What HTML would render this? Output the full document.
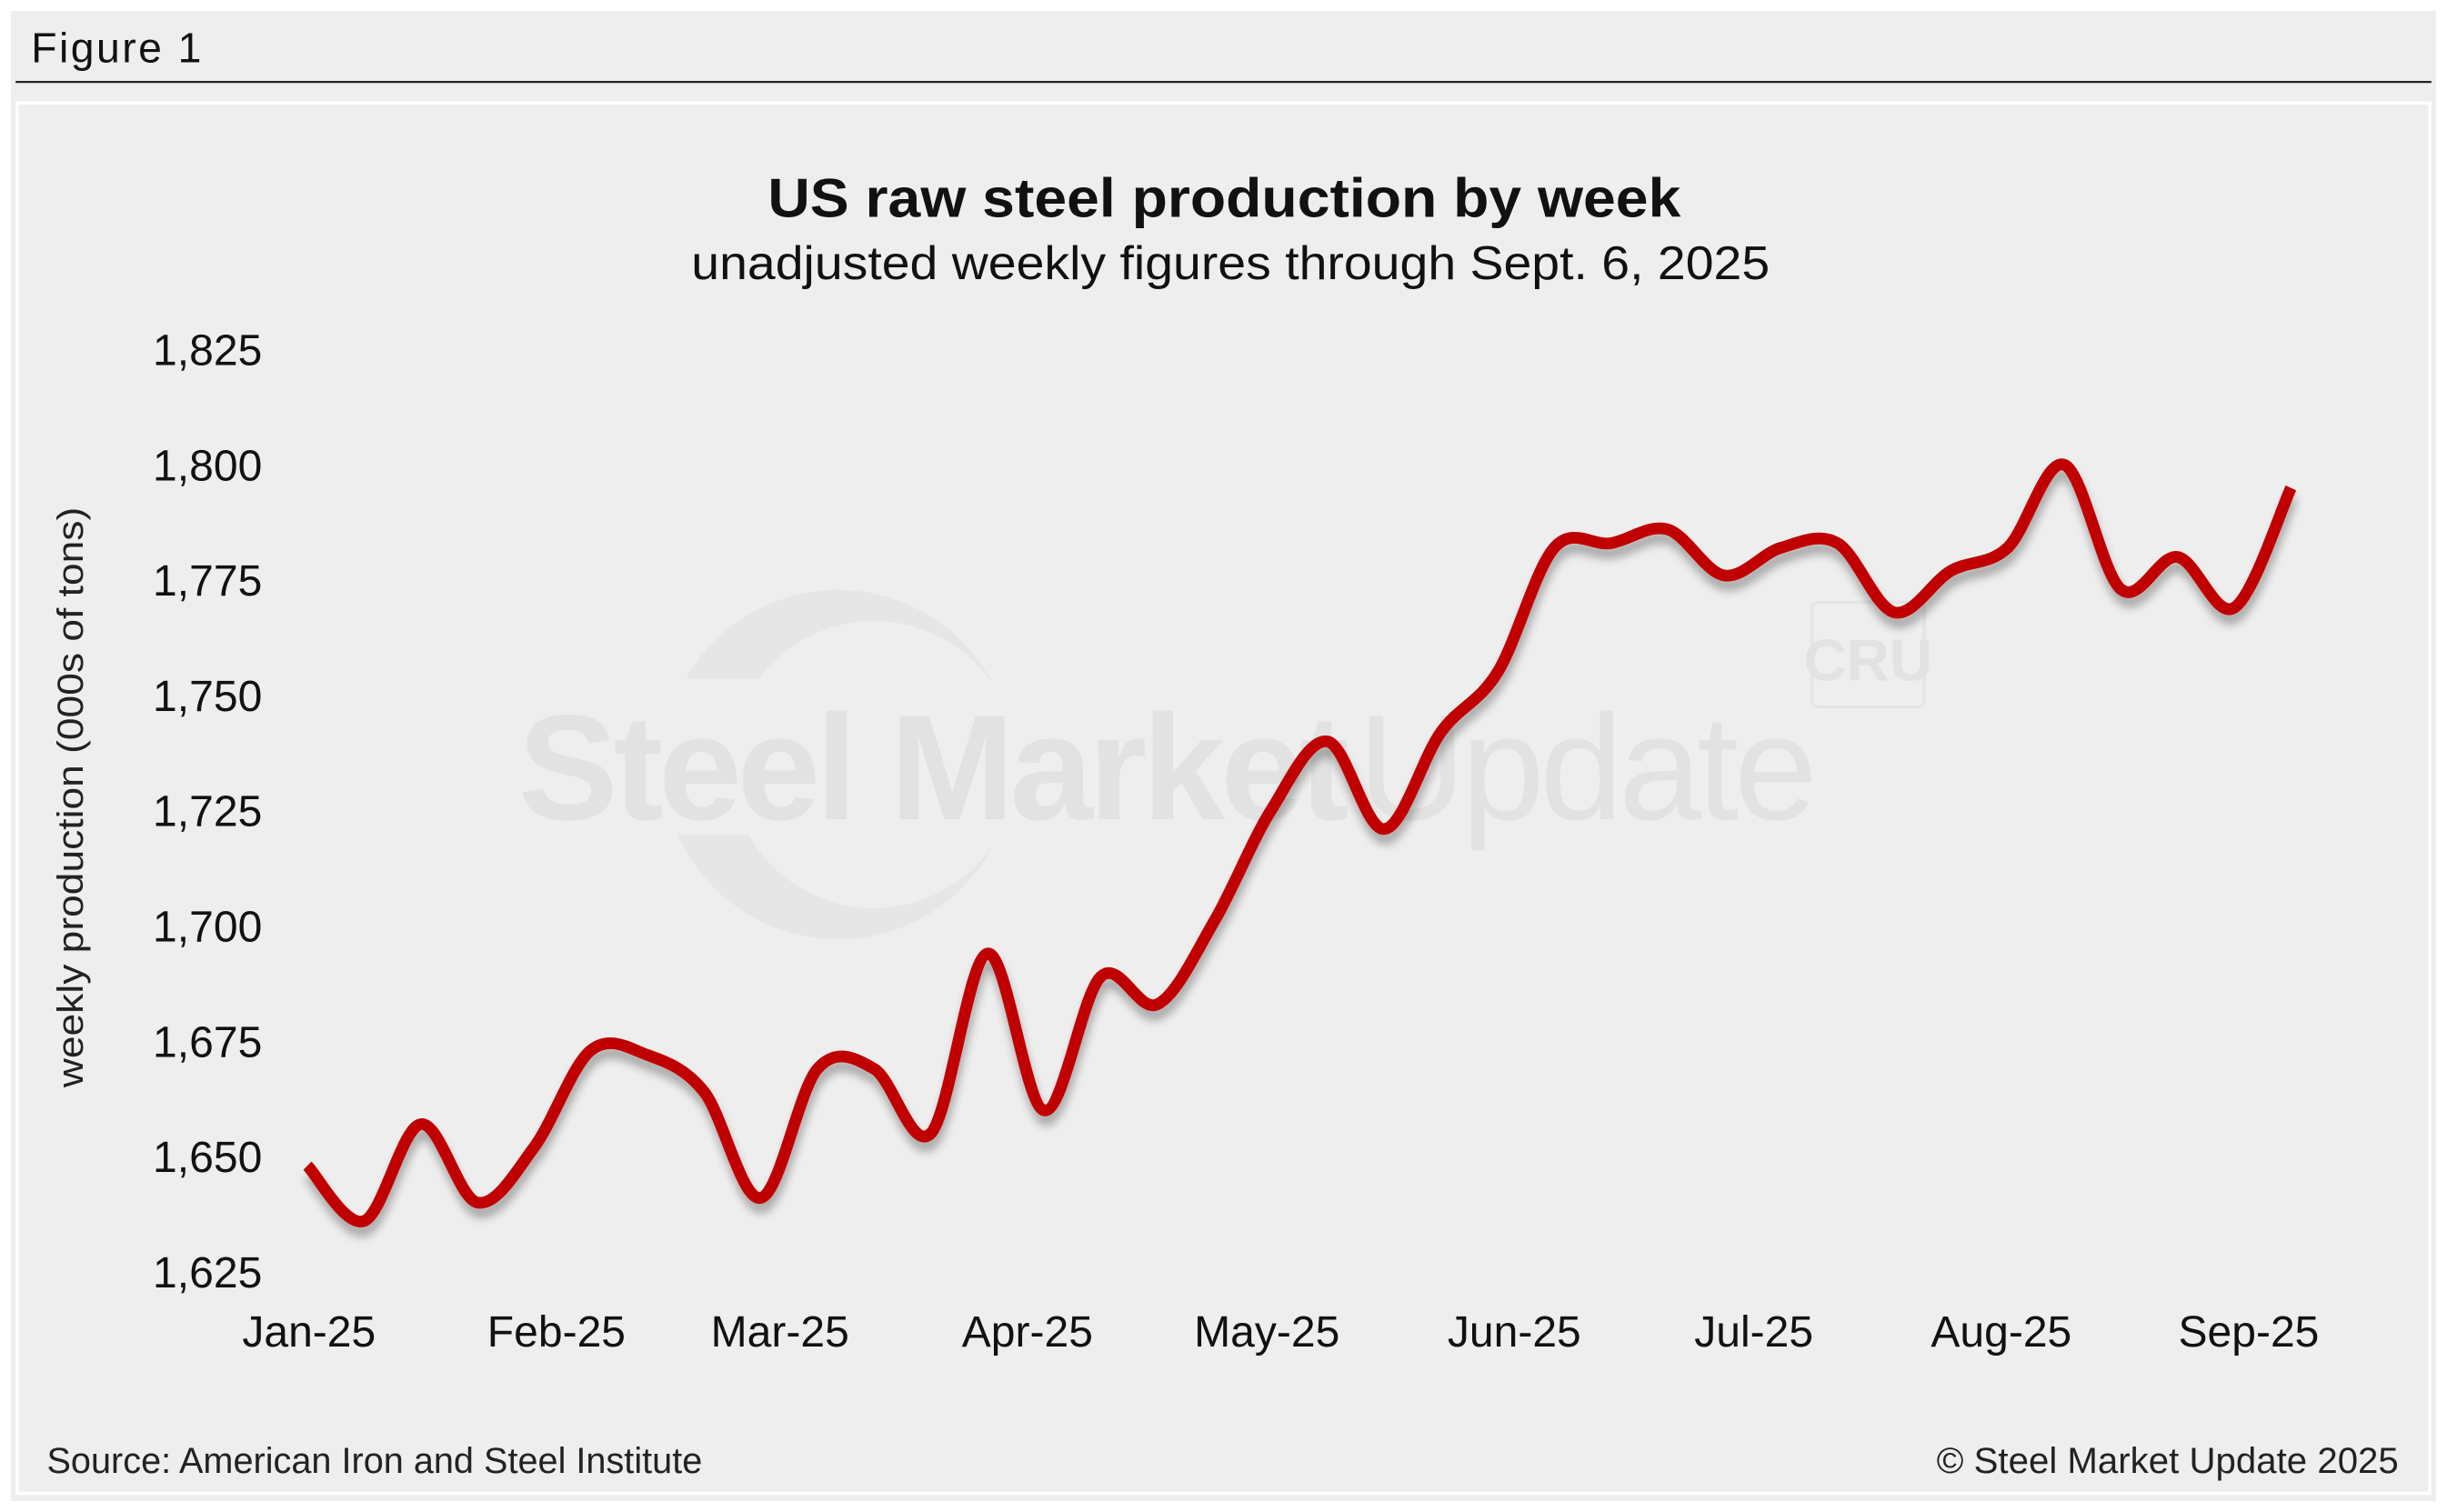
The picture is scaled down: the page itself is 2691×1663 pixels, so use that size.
<!DOCTYPE html>
<html><head><meta charset="utf-8"><style>
html,body{margin:0;padding:0;background:#fff;}
svg{display:block;}
text{font-family:"Liberation Sans",Arial,sans-serif;}
</style></head><body>
<svg id="chart" width="2691" height="1663" viewBox="0 0 1568 969" preserveAspectRatio="none" xmlns="http://www.w3.org/2000/svg">
<defs>
<filter id="sh" x="-5%" y="-5%" width="110%" height="120%"><feGaussianBlur in="SourceAlpha" stdDeviation="3"/><feOffset dx="1" dy="6"/><feComponentTransfer><feFuncA type="linear" slope="0.3"/></feComponentTransfer><feMerge><feMergeNode/><feMergeNode in="SourceGraphic"/></feMerge></filter>
</defs>
<rect x="0" y="0" width="1568" height="969" fill="#eeeeee"/>
<rect x="0" y="0" width="1568" height="969" fill="none" stroke="#fff" stroke-width="14"/>
<text x="20" y="40" font-size="27" textLength="109" fill="#111">Figure 1</text>
<line x1="10" y1="52.5" x2="1558" y2="52.5" stroke="#222" stroke-width="1.3"/>
<rect x="11" y="66" width="1546" height="891" fill="#eeeeee" stroke="#fff" stroke-width="2"/>
<g opacity="1">
<circle cx="537" cy="490" r="112" fill="#e6e6e6"/>
<circle cx="560" cy="490" r="92" fill="#eeeeee"/>
<rect x="420" y="435" width="230" height="100" fill="#eeeeee"/>
<text x="332" y="525" font-size="96" font-weight="bold" fill="#e2e2e2" letter-spacing="-3">Steel Market</text>
<text x="870" y="525" font-size="96" fill="#e2e2e2" letter-spacing="-3">Update</text>
<rect x="1161" y="386" width="72" height="67" rx="4" fill="none" stroke="#e4e4e4" stroke-width="2"/>
<text x="1197" y="436" font-size="38" font-weight="bold" fill="#e2e2e2" text-anchor="middle">CRU</text>
</g>
<text x="492" y="139" font-size="35" font-weight="bold" textLength="585" lengthAdjust="spacingAndGlyphs" fill="#111">US raw steel production by week</text>
<text x="443" y="179" font-size="30" textLength="691" lengthAdjust="spacingAndGlyphs" fill="#111">unadjusted weekly figures through Sept. 6, 2025</text>
<text transform="translate(53,511) rotate(-90)" font-size="23" text-anchor="middle" textLength="372" lengthAdjust="spacingAndGlyphs" fill="#222">weekly production (000s of tons)</text>
<g id="yticks"></g>
<g id="xticks"></g>
<g id="series"></g>
<text x="30" y="944" font-size="23" textLength="420" lengthAdjust="spacingAndGlyphs" fill="#222">Source: American Iron and Steel Institute</text>
<text x="1241" y="944" font-size="23" textLength="296" lengthAdjust="spacingAndGlyphs" fill="#222">© Steel Market Update 2025</text>
</svg>
<script>
const yTickValues = [1625,1650,1675,1700,1725,1750,1775,1800,1825];
const yTickLabels = ["1,625","1,650","1,675","1,700","1,725","1,750","1,775","1,800","1,825"];
const monthLabels = ["Jan-25","Feb-25","Mar-25","Apr-25","May-25","Jun-25","Jul-25","Aug-25","Sep-25"];
const monthStartDays = [0,31,59,90,120,151,181,212,243];
const weeklyProduction = [1648,1636,1657,1640,1652,1673,1672,1664,1641,1669,1669,1655,1694,1660,1689,1683,1701,1725,1740,1721,1742,1755,1782,1783,1786,1776,1782,1783,1768,1777,1782,1800,1773,1780,1769,1795];

const NS = "http://www.w3.org/2000/svg";
function yScale(v){ return 815 - (v - 1625) * (591/200); }
function xDay(d){ return 198 + d * 5.115; }
function xIdx(i){ return 197 + i * (1468 - 197) / (weeklyProduction.length - 1); }

const yg = document.getElementById('yticks');
yTickValues.forEach((v, i) => {
  const t = document.createElementNS(NS, 'text');
  t.setAttribute('x', 168);
  t.setAttribute('y', yScale(v) + 10);
  t.setAttribute('font-size', '28');
  t.setAttribute('text-anchor', 'end');
  t.setAttribute('fill', '#111');
  t.textContent = yTickLabels[i];
  
  
  yg.appendChild(t);
});

const xg = document.getElementById('xticks');
monthLabels.forEach((m, i) => {
  const t = document.createElementNS(NS, 'text');
  t.setAttribute('x', xDay(monthStartDays[i]));
  t.setAttribute('y', 863);
  t.setAttribute('font-size', '28');
  t.setAttribute('text-anchor', 'middle');
  t.setAttribute('fill', '#111');
  t.textContent = m;
  
  
  xg.appendChild(t);
});

const pts = weeklyProduction.map((v, i) => [xIdx(i), yScale(v)]);
let d = 'M' + pts[0][0] + ',' + pts[0][1];
for (let i = 0; i < pts.length - 1; i++) {
  const p0 = pts[Math.max(0, i - 1)], p1 = pts[i], p2 = pts[i + 1], p3 = pts[Math.min(pts.length - 1, i + 2)];
  const k = 1/6;
  const c1x = p1[0] + (p2[0] - p0[0]) * k, c1y = p1[1] + (p2[1] - p0[1]) * k;
  const c2x = p2[0] - (p3[0] - p1[0]) * k, c2y = p2[1] - (p3[1] - p1[1]) * k;
  d += ' C' + c1x + ',' + c1y + ' ' + c2x + ',' + c2y + ' ' + p2[0] + ',' + p2[1];
}
const path = document.createElementNS(NS, 'path');
path.setAttribute('d', d);
path.setAttribute('fill', 'none');
path.setAttribute('stroke', '#c00000');
path.setAttribute('stroke-width', '7.5');
path.setAttribute('stroke-linejoin', 'round');
path.setAttribute('filter', 'url(#sh)');


document.getElementById('series').appendChild(path);
</script>
</body></html>
